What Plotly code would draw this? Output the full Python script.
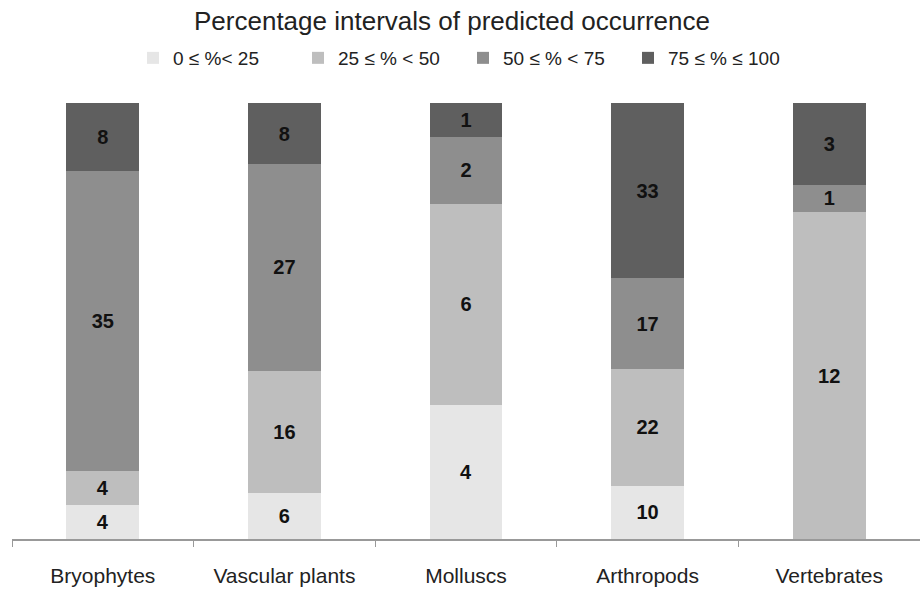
import plotly.graph_objects as go

categories = ["Bryophytes", "Vascular plants", "Molluscs", "Arthropods", "Vertebrates"]
series_names = ["0 ≤ %< 25", "25 ≤ % < 50", "50 ≤ % < 75", "75 ≤ % ≤ 100"]
s0_25 = [4, 6, 4, 10, 0]
s25_50 = [4, 16, 6, 22, 12]
s50_75 = [35, 27, 2, 17, 1]
s75_100 = [8, 8, 1, 33, 3]
colors = ["#e6e6e6", "#bebebe", "#8e8e8e", "#5f5f5f"]

fig = go.Figure()
for name, vals, col in zip(series_names, [s0_25, s25_50, s50_75, s75_100], colors):
    fig.add_trace(go.Bar(
        x=categories, y=vals, name=name,
        marker=dict(color=col, line=dict(width=0)),
        text=[str(v) if v > 0 else "" for v in vals],
        textposition="inside", insidetextanchor="middle", textangle=0,
        textfont=dict(family="Liberation Sans, Arial", size=20, color="#111", weight="bold"),
        constraintext="none",
    ))

fig.update_layout(
    barmode="stack", barnorm="percent", bargap=0.6,
    width=920, height=589,
    margin=dict(l=12, r=0, t=103, b=50, autoexpand=False),
    paper_bgcolor="white", plot_bgcolor="white",
    font=dict(family="Liberation Sans, Arial", color="#222"),
    title=dict(text="Percentage intervals of predicted occurrence",
               x=452 / 920, xanchor="center", xref="container",
               yref="container", y=1 - 21 / 589, yanchor="middle",
               font=dict(size=26, color="#222")),
    legend=dict(orientation="h", x=(463 - 12) / 908, xanchor="center", y=1 + 45 / 436, yanchor="middle",
                font=dict(size=19, color="#222"), traceorder="normal",
                itemwidth=30, entrywidth=120),
    uniformtext=dict(mode=False),
    showlegend=True,
)
fig.update_xaxes(showline=True, linecolor="#999", linewidth=1.5,
                 ticks="outside", tickson="boundaries", ticklen=6, tickcolor="#999",
                 ticklabelstandoff=17,
                 tickfont=dict(size=21, color="#222"), showgrid=False)
fig.update_yaxes(visible=False, range=[0, 100], showgrid=False)

fig.write_html("out.html", config={"displayModeBar": False},
               post_script="document.body.style.margin='0';document.body.style.overflow='hidden';")
